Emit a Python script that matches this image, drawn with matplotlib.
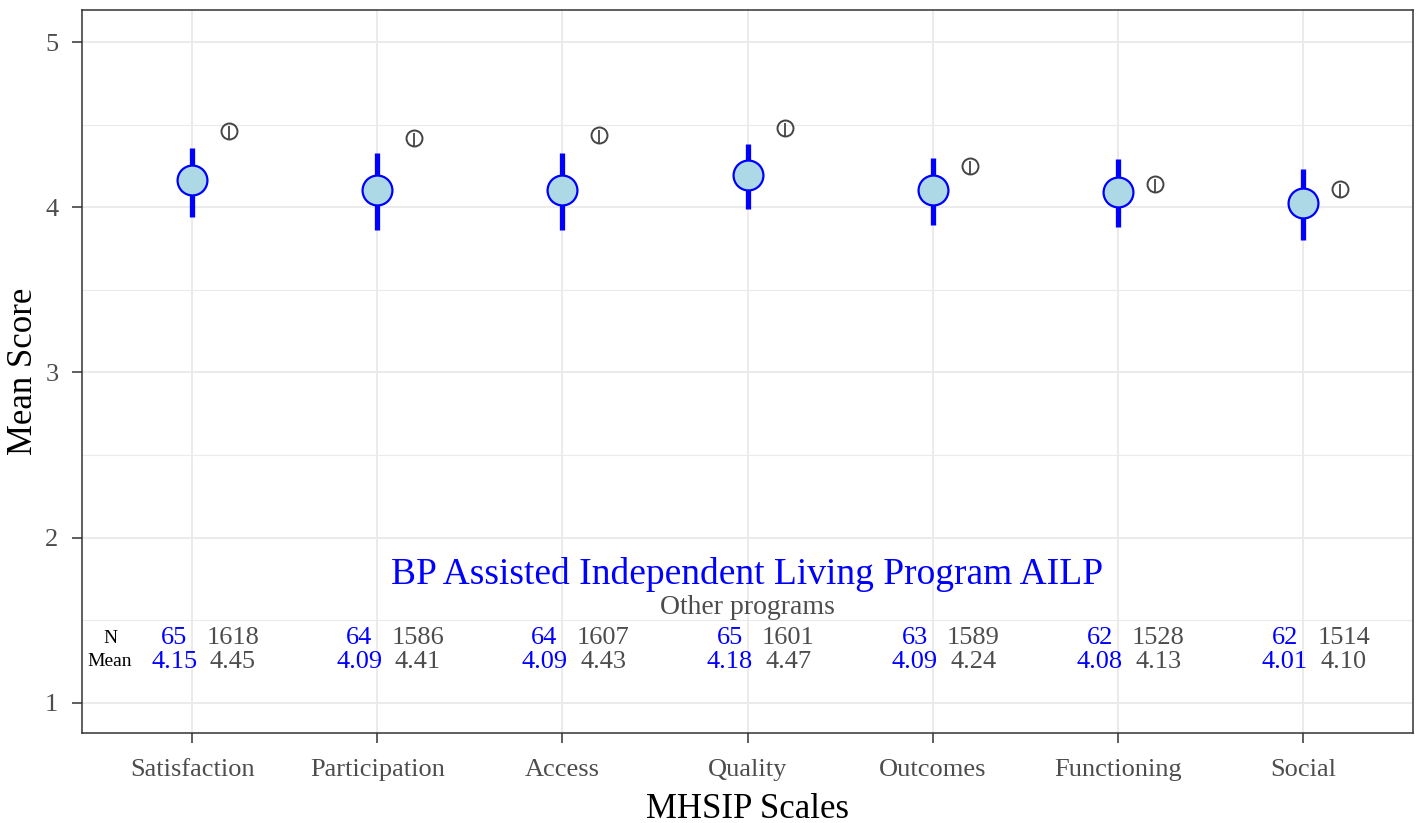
import numpy as np
import matplotlib.pyplot as plt

# Data
scales = ['Satisfaction', 'Participation', 'Access', 'Quality', 'Outcomes', 'Functioning', 'Social']
n_prog = [65, 64, 64, 65, 63, 62, 62]
mean_prog = [4.15, 4.09, 4.09, 4.18, 4.09, 4.08, 4.01]
lo_prog = [3.94, 3.86, 3.86, 3.99, 3.89, 3.88, 3.80]
hi_prog = [4.36, 4.33, 4.33, 4.38, 4.30, 4.29, 4.23]
n_other = [1618, 1586, 1607, 1601, 1589, 1528, 1514]
mean_other = [4.45, 4.41, 4.43, 4.47, 4.24, 4.13, 4.10]
lo_other = [4.41, 4.37, 4.39, 4.43, 4.20, 4.09, 4.06]
hi_other = [4.49, 4.45, 4.47, 4.51, 4.28, 4.17, 4.14]
program_name = 'BP Assisted Independent Living Program AILP'

plt.rcParams['font.family'] = ['Liberation Serif', 'DejaVu Serif']

fig = plt.figure(figsize=(14.16, 8.23), dpi=100)
ax = fig.add_axes([82 / 1416, 1 - 733 / 823, 1331 / 1416, 723 / 823])

x = np.arange(1, len(scales) + 1)
mp = np.array(mean_prog)
mo = np.array(mean_other)

# program: error bars + points
ax.vlines(x, lo_prog, hi_prog, color='blue', lw=3.8, zorder=3)
ax.plot(x, mp + 0.015, 'o', ms=21.5, mfc='lightblue', mec='blue', mew=1.6, zorder=4)

# other programs
xo = x + 0.2
ax.vlines(xo, lo_other, hi_other, color='#444444', lw=1.3, zorder=3)
ax.plot(xo, mo + 0.01, 'o', ms=11.5, mfc='none', mec='#444444', mew=1.4, zorder=4)

# annotations
ax.text(4, 1.775, program_name, color='blue', fontsize=27, ha='center', va='center')
ax.text(4, 1.58, 'Other programs', color='#4D4D4D', fontsize=20, ha='center', va='center')
ax.text(0.557, 1.39, 'N', fontsize=14, ha='center', va='center')
ax.text(0.557, 1.25, 'Mean', fontsize=14, ha='center', va='center')
for i in range(len(scales)):
    ax.text(x[i] - 0.097, 1.39, str(n_prog[i]), color='blue', fontsize=19, ha='center', va='center')
    ax.text(x[i] - 0.097, 1.25, f'{mean_prog[i]:.2f}', color='blue', fontsize=19, ha='center', va='center')
    ax.text(x[i] + 0.22, 1.39, str(n_other[i]), color='#4D4D4D', fontsize=19, ha='center', va='center')
    ax.text(x[i] + 0.22, 1.25, f'{mean_other[i]:.2f}', color='#4D4D4D', fontsize=19, ha='center', va='center')

ax.set_xlim(0.405, 7.595)
ax.set_ylim(0.818, 5.194)
ax.set_xticks(x)
ax.set_xticklabels(scales)
ax.set_yticks([1, 2, 3, 4, 5])
ax.set_yticks([1.5, 2.5, 3.5, 4.5], minor=True)
ax.tick_params(axis='both', labelsize=19, colors='#333333', labelcolor='#4D4D4D', length=7, width=1.1)
ax.tick_params(axis='x', pad=12)
ax.tick_params(axis='y', pad=10)
ax.tick_params(axis='y', which='minor', length=0)
ax.grid(which='major', color='#EBEBEB', lw=1.4, zorder=0)
ax.grid(which='minor', axis='y', color='#EBEBEB', lw=0.8, zorder=0)
ax.set_axisbelow(True)
for s in ax.spines.values():
    s.set_color('#333333')
    s.set_linewidth(1.1)

ax.set_xlabel('MHSIP Scales', fontsize=25, labelpad=8)
ax.set_ylabel('Mean Score', fontsize=25, labelpad=4)

fig.savefig('out.png', dpi=100)
